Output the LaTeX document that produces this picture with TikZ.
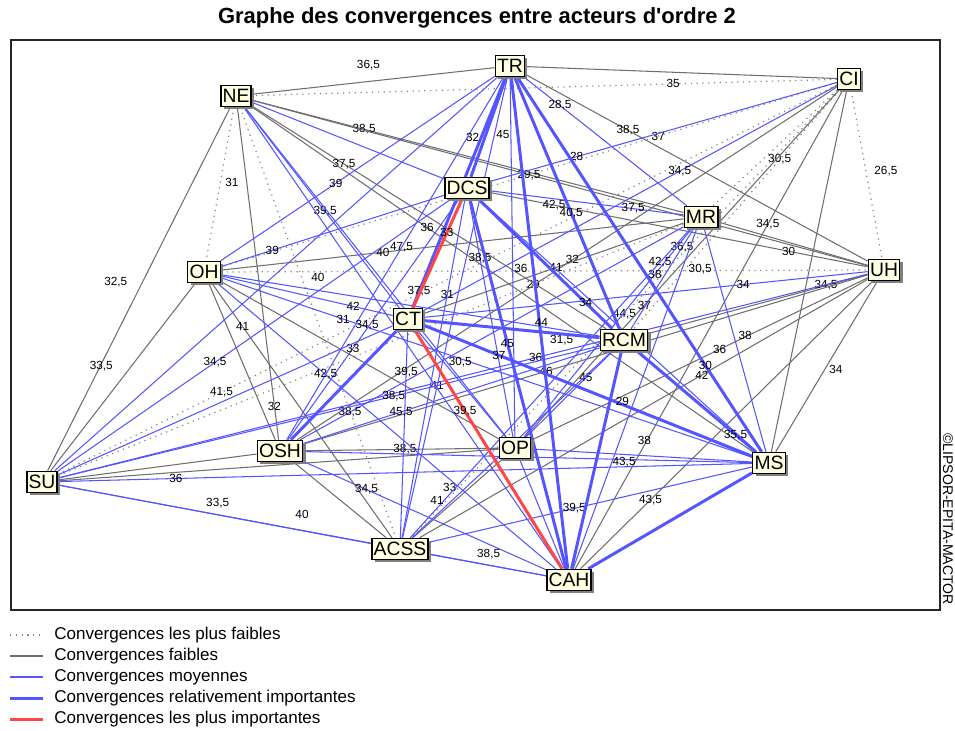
\documentclass[tikz,border=0pt]{standalone}
\usepackage{fontspec}
\setmainfont{Liberation Sans}
\usetikzlibrary{backgrounds,shadows}
\definecolor{convgray}{RGB}{110,110,110}
\definecolor{convdot}{RGB}{135,135,135}
\definecolor{convblue}{RGB}{85,85,255}
\definecolor{convred}{RGB}{255,70,70}
\definecolor{boxfill}{RGB}{255,255,225}

\begin{document}
\begin{tikzpicture}[x=0.02cm,y=-0.02cm,
  actor/.style={draw=black,line width=0.8pt,fill=boxfill,inner xsep=1pt,inner ysep=1.5pt,
    minimum height=12pt,font=\fontsize{11}{12}\selectfont,
    drop shadow={shadow xshift=1.6pt,shadow yshift=-1.6pt,fill=black!50,opacity=1}},
  lbl/.style={text=black,inner sep=0.5pt,font=\fontsize{6.7}{7}\selectfont},
  legtxt/.style={anchor=west,inner sep=0pt,font=\fontsize{9.7}{11}\selectfont},
  cplus/.style={convdot,line width=0.7pt,dash pattern=on 0.7pt off 2.6pt},
  cfaible/.style={convgray,line width=0.6pt},
  cmoy/.style={convblue,line width=0.6pt},
  crel/.style={convblue,line width=1.7pt},
  cimp/.style={convred,line width=1.7pt}]
\useasboundingbox (0,0) rectangle (955,730);

\node[font=\bfseries\fontsize{12.5}{14}\selectfont] (titre) at (477,18) {Graphe des convergences entre acteurs d\textquotesingle ordre 2};
\node[rotate=-90,font=\fontsize{8}{9}\selectfont] (copyr) at (948,519) {©LIPSOR-EPITA-MACTOR};

% acteurs
\node[actor] (TR) at (510,66) {TR};
\node[actor] (CI) at (849,79) {CI};
\node[actor] (NE) at (236,96) {NE};
\node[actor] (DCS) at (467,188) {DCS};
\node[actor] (MR) at (701,217) {MR};
\node[actor] (OH) at (204,272) {OH};
\node[actor] (UH) at (884,270) {UH};
\node[actor] (CT) at (408,319) {CT};
\node[actor] (RCM) at (624,340) {RCM};
\node[actor] (SU) at (42,482) {SU};
\node[actor] (OSH) at (280,451) {OSH};
\node[actor] (OP) at (515,448) {OP};
\node[actor] (MS) at (769,463) {MS};
\node[actor] (ACSS) at (400,549) {ACSS};
\node[actor] (CAH) at (569,580) {CAH};

\begin{scope}[on background layer]
\draw[line width=0.8pt,black!85] (11,40) rectangle (940,610);

% convergences les plus faibles
\draw[cplus] (CI) -- node[lbl,pos=0.28]{35} (NE);
\draw[cplus] (CI) -- (MR);
\draw[cplus] (CI) -- node[lbl,pos=0.29]{37} (OH);
\draw[cplus] (CI) -- node[lbl,pos=0.48,right=4pt]{26,5} (UH);
\draw[cplus] (CI) -- node[lbl,pos=0.29]{30,5} (RCM);
\draw[cplus] (CI) -- node[lbl,pos=0.79]{41,5} (SU);
\draw[cplus] (CI) -- node[lbl,pos=0.5]{44,5} (ACSS);
\draw[cplus] (NE) -- node[lbl,pos=0.49,right=2pt]{31} (OH);
\draw[cplus] (NE) -- (ACSS);
\draw[cplus] (MR) -- node[lbl,pos=0.24]{29} (SU);
\draw[cplus] (OH) -- node[lbl,pos=0.15,below]{40} (UH);

% convergences faibles
\draw[cfaible] (TR) -- (CI);
\draw[cfaible] (TR) -- node[lbl,pos=0.52,above=6pt]{36,5} (NE);
\draw[cfaible] (TR) -- node[lbl,pos=0.30]{38,5} (UH);
\draw[cfaible] (CI) -- node[lbl,pos=0.49]{32} (OSH);
\draw[cfaible] (CI) -- node[lbl,pos=0.62]{37} (OP);
\draw[cfaible] (CI) -- (MS);
\draw[cfaible] (CI) -- node[lbl,pos=0.28]{34,5} (CAH);
\draw[cfaible] (NE) -- node[lbl,pos=0.26]{38,5} (MR);
\draw[cfaible] (NE) -- node[lbl,pos=0.45]{29,5} (UH);
\draw[cfaible] (NE) -- node[lbl,pos=0.26]{37,5} (RCM);
\draw[cfaible] (NE) -- node[lbl,pos=0.48,left=8pt]{32,5} (SU);
\draw[cfaible] (NE) -- node[lbl,pos=0.90]{32} (OSH);
\draw[cfaible] (NE) -- node[lbl,pos=0.35]{36} (MS);
\draw[cfaible] (DCS) -- node[lbl,pos=0.17]{42,5} (UH);
\draw[cfaible] (MR) -- node[lbl,pos=0.65]{40} (OH);
\draw[cfaible] (MR) -- node[lbl,pos=0.47,below=2pt]{30} (UH);
\draw[cfaible] (MR) -- node[lbl,pos=0.49]{41} (CT);
\draw[cfaible] (OH) -- node[lbl,pos=0.44,left=10pt]{33,5} (SU);
\draw[cfaible] (OH) -- (OSH);
\draw[cfaible] (OH) -- (OP);
\draw[cfaible] (OH) -- node[lbl,pos=0.17]{41} (ACSS);
\draw[cfaible] (UH) -- node[lbl,pos=0.19]{34,5} (RCM);
\draw[cfaible] (UH) -- node[lbl,pos=0.57]{46} (OSH);
\draw[cfaible] (UH) -- node[lbl,pos=0.44]{36} (OP);
\draw[cfaible] (UH) -- node[lbl,pos=0.52,right=2pt]{34} (MS);
\draw[cfaible] (UH) -- node[lbl,pos=0.37]{42} (ACSS);
\draw[cfaible] (UH) -- node[lbl,pos=0.76]{43,5} (CAH);
\draw[cfaible] (SU) -- (OSH);
\draw[cfaible] (SU) -- (OP);
\draw[cfaible] (OSH) -- node[lbl,pos=0.52]{38,5} (OP);
\draw[cfaible] (OSH) -- (ACSS);
\draw[cfaible] (OP) -- node[lbl,pos=0.36,left=7pt]{33} (ACSS);

% convergences moyennes
\draw[cmoy] (TR) -- node[lbl,pos=0.22]{28,5} (MR);
\draw[cmoy] (TR) -- node[lbl,pos=0.58]{39} (OH);
\draw[cmoy] (TR) -- (SU);
\draw[cmoy] (TR) -- node[lbl,pos=0.47]{47,5} (OSH);
\draw[cmoy] (TR) -- node[lbl,pos=0.16,left]{45} (OP);
\draw[cmoy] (TR) -- node[lbl,pos=0.67]{41} (ACSS);
\draw[cmoy] (CI) -- node[lbl,pos=0.75]{28} (DCS);
\draw[cmoy] (CI) -- node[lbl,pos=0.38]{34,5} (CT);
\draw[cmoy] (NE) -- (DCS);
\draw[cmoy] (NE) -- node[lbl,pos=0.52]{39,5} (CT);
\draw[cmoy] (NE) -- (OP);
\draw[cmoy] (NE) -- (CAH);
\draw[cmoy] (DCS) -- node[lbl,pos=0.74]{37,5} (MR);
\draw[cmoy] (DCS) -- node[lbl,pos=0.77]{39} (OH);
\draw[cmoy] (DCS) -- node[lbl,pos=0.60]{34,5} (SU);
\draw[cmoy] (DCS) -- node[lbl,pos=0.62]{33} (OSH);
\draw[cmoy] (DCS) -- node[lbl,pos=0.25]{38,5} (OP);
\draw[cmoy] (DCS) -- (MS);
\draw[cmoy] (DCS) -- node[lbl,pos=0.28]{31} (ACSS);
\draw[cmoy] (MR) -- node[lbl,pos=0.19]{36,5} (RCM);
\draw[cmoy] (MR) -- node[lbl,pos=0.87]{38,5} (OSH);
\draw[cmoy] (MR) -- node[lbl,pos=0.22]{38} (OP);
\draw[cmoy] (MR) -- node[lbl,pos=0.48,right=2pt]{38} (MS);
\draw[cmoy] (MR) -- node[lbl,pos=0.11]{42,5} (ACSS);
\draw[cmoy] (MR) -- node[lbl,pos=0.12,right=3pt]{30,5} (CAH);
\draw[cmoy] (OH) -- node[lbl,pos=0.77]{42} (CT);
\draw[cmoy] (OH) -- node[lbl,pos=0.90,below=2pt]{31,5} (RCM);
\draw[cmoy] (OH) -- node[lbl,pos=0.23]{31} (MS);
\draw[cmoy] (OH) -- node[lbl,pos=0.32]{42,5} (CAH);
\draw[cmoy] (UH) -- node[lbl,pos=0.28]{34} (CT);
\draw[cmoy] (UH) -- node[lbl,pos=0.41]{36} (SU);
\draw[cmoy] (CT) -- (SU);
\draw[cmoy] (CT) -- node[lbl,pos=0.30,right=2pt]{30,5} (OP);
\draw[cmoy] (CT) -- node[lbl,pos=0.20]{39,5} (ACSS);
\draw[cmoy] (RCM) -- node[lbl,pos=0.38]{38,5} (SU);
\draw[cmoy] (RCM) -- node[lbl,pos=0.67]{45,5} (OSH);
\draw[cmoy] (RCM) -- node[lbl,pos=0.31]{45} (OP);
\draw[cmoy] (RCM) -- node[lbl,pos=0.80,left=4pt]{41} (ACSS);
\draw[cmoy] (SU) -- node[lbl,pos=0.17]{36} (MS);
\draw[cmoy] (SU) -- node[lbl,pos=0.51,above=3pt]{33,5} (ACSS);
\draw[cmoy] (SU) -- node[lbl,pos=0.50,above=6pt]{40} (CAH);
\draw[cmoy] (OSH) -- node[lbl,pos=0.76,above=8pt]{38} (MS);
\draw[cmoy] (OSH) -- node[lbl,pos=0.26]{34,5} (CAH);
\draw[cmoy] (OP) -- node[lbl,pos=0.42,below=1pt]{43,5} (MS);
\draw[cmoy] (OP) -- (CAH);
\draw[cmoy] (MS) -- node[lbl,pos=0.55]{39,5} (ACSS);
\draw[cmoy] (ACSS) -- node[lbl,pos=0.51,above=3pt]{38,5} (CAH);

% convergences relativement importantes
\draw[crel] (TR) -- node[lbl,pos=0.60,left=2pt]{32} (DCS);
\draw[crel] (TR) -- node[lbl,pos=0.93]{37,5} (CT);
\draw[crel] (TR) -- node[lbl,pos=0.54]{40,5} (RCM);
\draw[crel] (TR) -- node[lbl,pos=0.77]{30} (MS);
\draw[crel] (TR) -- node[lbl,pos=0.39,left=2pt]{36} (CAH);
\draw[crel] (DCS) -- node[lbl,pos=0.80]{34} (RCM);
\draw[crel] (DCS) -- node[lbl,pos=0.39]{45} (CAH);
\draw[crel] (CT) -- node[lbl,pos=0.67,above=2pt]{44} (RCM);
\draw[crel] (CT) -- node[lbl,pos=0.02,left=8pt,yshift=4pt]{34,5} (OSH);
\draw[crel] (CT) -- node[lbl,pos=0.23]{37} (MS);
\draw[crel] (RCM) -- node[lbl,pos=0.83]{35,5} (MS);
\draw[crel] (RCM) -- node[lbl,pos=0.23,right=2pt]{29} (CAH);
\draw[crel] (MS) -- (CAH);

% convergences les plus importantes
\draw[cimp] (DCS) -- node[lbl,pos=0.31]{33} (CT);
\draw[cimp] (CT) -- node[lbl,pos=0.34]{39,5} (CAH);
\end{scope}

% legende
\foreach \sty/\txt [count=\i] in {cplus/Convergences les plus faibles,
    cfaible/Convergences faibles, cmoy/Convergences moyennes,
    crel/Convergences relativement importantes,
    cimp/Convergences les plus importantes} {
  \draw[\sty] (10,614+21*\i) -- (43,614+21*\i);
  \node[legtxt] (leg\i) at (54,614+21*\i) {\txt};
}
\end{tikzpicture}
\end{document}
